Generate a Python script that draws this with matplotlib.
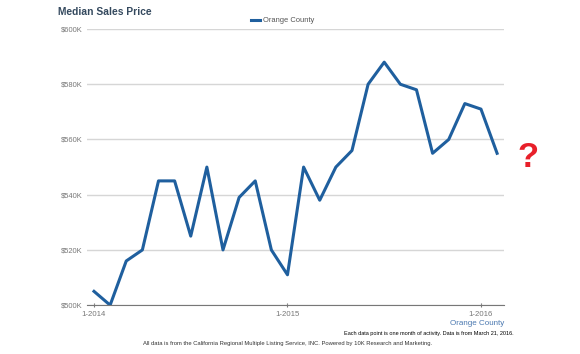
import matplotlib
matplotlib.use('Agg')
import matplotlib.pyplot as plt

plt.rcParams['font.family'] = ['Liberation Sans', 'DejaVu Sans']

# monthly median sales price, Orange County, Jan 2014 - Feb 2016 (in $K)
months = list(range(26))
prices = [505, 500, 516, 520, 545, 545, 525, 550, 520, 539, 545, 520, 511,
          550, 538, 550, 556, 580, 588, 580, 578, 555, 560, 573, 571, 555]
tick_pos = [0, 12, 24]
tick_labels = ['1-2014', '1-2015', '1-2016']
y_ticks = [500, 520, 540, 560, 580, 600]

fig = plt.figure(figsize=(5.8, 3.54), dpi=100)
ax = fig.add_axes([0.15, 0.138, 0.719, 0.78])

ax.plot(months, prices, color='#1f5f9e', linewidth=2.2, label='Orange County')

ax.set_xlim(-0.434, 25.43)
ax.set_ylim(500, 600)
ax.set_yticks(y_ticks)
ax.set_yticklabels(['$%dK' % v for v in y_ticks])
ax.set_xticks(tick_pos)
ax.set_xticklabels(tick_labels)
ax.grid(axis='y', color='#d6d6d6', linewidth=1)
ax.set_axisbelow(True)
for s in ['top', 'right', 'left']:
    ax.spines[s].set_visible(False)
ax.spines['bottom'].set_color('#777777')
ax.tick_params(axis='y', length=0, labelsize=5.4, colors='#777777', pad=3.5)
ax.tick_params(axis='x', length=3, labelsize=5.6, colors='#777777', width=0.8,
               direction='inout', pad=3)

fig.text(0.1, 0.965, 'Median Sales Price', fontsize=7.4, fontweight='bold',
         color='#34495e', ha='left', va='center')
ax.legend(loc='center', bbox_to_anchor=(0.47, 1.03), frameon=False,
          fontsize=5.4, handlelength=1.2, handletextpad=0.4)
for t in ax.get_legend().get_texts():
    t.set_color('#555555')

fig.text(0.869, 0.087, 'Orange County', fontsize=5.8, color='#4a78b0', ha='right', va='center')
fig.text(0.886, 0.059, 'Each data point is one month of activity. Data is from March 21, 2016.',
         fontsize=4.0, color='black', ha='right', va='center')
fig.text(0.495, 0.031, 'All data is from the California Regional Multiple Listing Service, INC. '
         'Powered by 10K Research and Marketing.',
         fontsize=4.2, color='#333333', ha='center', va='center')
fig.text(0.91, 0.556, '?', fontsize=25, fontweight='bold', color='#e8202a',
         ha='center', va='center')

fig.savefig('out.png', dpi=100)
